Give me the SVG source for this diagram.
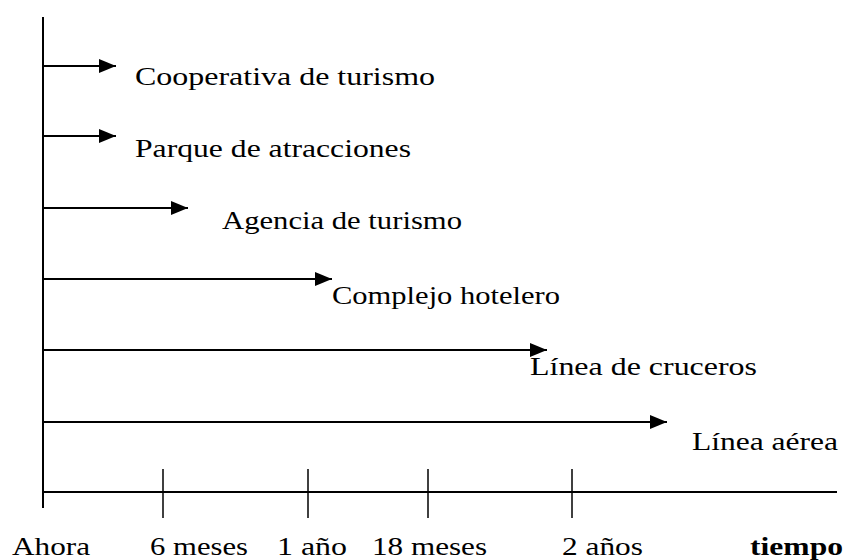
<svg xmlns="http://www.w3.org/2000/svg" width="846" height="560" viewBox="0 0 846 560">
<defs>
<marker id="ah" markerWidth="17" markerHeight="15" refX="17" refY="7.5" orient="auto" markerUnits="userSpaceOnUse">
<path d="M0,0.5 L17,7.5 L0,14.5 Z" fill="#000"/>
</marker>
<style>
.ln{stroke:#000;stroke-width:2;fill:none}
.tk{stroke:#000;stroke-width:1.5;fill:none}
text{font-family:"Liberation Serif","DejaVu Serif",serif;font-size:26px;fill:#000}
.b{font-weight:bold}
</style>
</defs>
<rect width="846" height="560" fill="#fff"/>
<g id="axes">
<line class="ln" x1="43" y1="17" x2="43" y2="508"/>
<line class="ln" x1="43" y1="492" x2="837" y2="492"/>
<line class="tk" x1="163" y1="469" x2="163" y2="518"/>
<line class="tk" x1="308" y1="469" x2="308" y2="518"/>
<line class="tk" x1="428" y1="469" x2="428" y2="518"/>
<line class="tk" x1="572" y1="469" x2="572" y2="518"/>
</g>
<g id="connectors">
<line class="ln" x1="43" y1="66" x2="116" y2="66" marker-end="url(#ah)"/>
<line class="ln" x1="43" y1="136" x2="116" y2="136" marker-end="url(#ah)"/>
<line class="ln" x1="43" y1="208" x2="188" y2="208" marker-end="url(#ah)"/>
<line class="ln" x1="43" y1="279" x2="332" y2="279" marker-end="url(#ah)"/>
<line class="ln" x1="43" y1="350" x2="547" y2="350" marker-end="url(#ah)"/>
<line class="ln" x1="43" y1="422" x2="667" y2="422" marker-end="url(#ah)"/>
</g>
<g id="n1"><text x="135" y="85" textLength="300" lengthAdjust="spacingAndGlyphs">Cooperativa de turismo</text></g>
<g id="n2"><text x="135" y="157" textLength="276" lengthAdjust="spacingAndGlyphs">Parque de atracciones</text></g>
<g id="n3"><text x="222" y="229" textLength="240" lengthAdjust="spacingAndGlyphs">Agencia de turismo</text></g>
<g id="n4"><text x="332" y="304" textLength="228" lengthAdjust="spacingAndGlyphs">Complejo hotelero</text></g>
<g id="n5"><text x="530" y="375" textLength="227" lengthAdjust="spacingAndGlyphs">Línea de cruceros</text></g>
<g id="n6"><text x="692" y="450" textLength="146" lengthAdjust="spacingAndGlyphs">Línea aérea</text></g>
<g id="labels">
<text x="12" y="555" textLength="78" lengthAdjust="spacingAndGlyphs">Ahora</text>
<text x="150" y="555" textLength="98" lengthAdjust="spacingAndGlyphs">6 meses</text>
<text x="277" y="555" textLength="70" lengthAdjust="spacingAndGlyphs">1 año</text>
<text x="372" y="555" textLength="115" lengthAdjust="spacingAndGlyphs">18 meses</text>
<text x="562" y="555" textLength="81" lengthAdjust="spacingAndGlyphs">2 años</text>
<text class="b" x="750" y="555" textLength="93" lengthAdjust="spacingAndGlyphs">tiempo</text>
</g>
</svg>
